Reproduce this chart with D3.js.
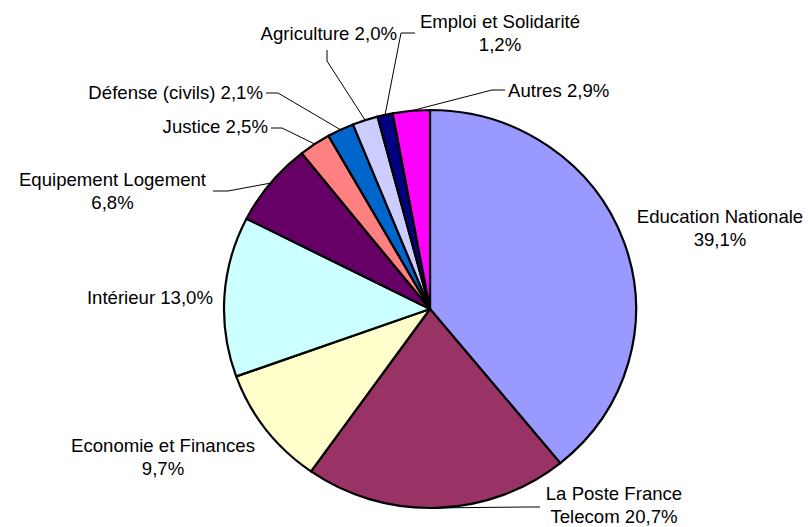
<!DOCTYPE html>
<html>
<head>
<meta charset="utf-8">
<script src="https://cdn.jsdelivr.net/npm/d3@7"></script>
<style>
  html, body { margin: 0; padding: 0; background: #ffffff; }
  svg { display: block; }
  text { font-family: "Liberation Sans", Arial, sans-serif; font-size: 18.6px; fill: #000; }
</style>
</head>
<body>
<svg id="chart" width="808" height="527"></svg>
<script>
// ---- data ----
const categories = [
  "Education Nationale", "La Poste France Telecom", "Economie et Finances",
  "Intérieur", "Equipement Logement", "Justice", "Défense (civils)",
  "Agriculture", "Emploi et Solidarité", "Autres"
];
const values = [39.1, 20.7, 9.7, 13.0, 6.8, 2.5, 2.1, 2.0, 1.2, 2.9];
const valueLabels = ["39,1%", "20,7%", "9,7%", "13,0%", "6,8%", "2,5%", "2,1%", "2,0%", "1,2%", "2,9%"];
const colors = ["#9999FF", "#993366", "#FFFFCC", "#CCFFFF", "#660066",
                "#FF8080", "#0066CC", "#CCCCFF", "#000080", "#FF00FF"];

// ---- layout (label text lines, positions, leader lines) ----
const labelLines = [
  ["Education Nationale", "39,1%"],
  ["La Poste France", "Telecom 20,7%"],
  ["Economie et Finances", "9,7%"],
  ["Intérieur 13,0%"],
  ["Equipement Logement", "6,8%"],
  ["Justice 2,5%"],
  ["Défense (civils) 2,1%"],
  ["Agriculture 2,0%"],
  ["Emploi et Solidarité", "1,2%"],
  ["Autres 2,9%"]
];
// x, first baseline y, anchor, leader polyline start points (before pie point)
const labelLayout = [
  {x: 720, y: 223, anchor: "middle", leader: null},
  {x: 614, y: 500, anchor: "middle", leader: [[540, 507], [527, 507]]},
  {x: 163, y: 452, anchor: "middle", leader: null},
  {x: 213, y: 304, anchor: "end", leader: null},
  {x: 112.5, y: 186, anchor: "middle", leader: [[213, 191], [228, 191]]},
  {x: 268, y: 133, anchor: "end", leader: [[271, 128], [282, 128]]},
  {x: 263, y: 99, anchor: "end", leader: [[266, 93], [278, 93]]},
  {x: 397, y: 40, anchor: "end", leader: [[327, 50], [327, 61]]},
  {x: 500, y: 28, anchor: "middle", leader: [[415, 33], [401, 33]]},
  {x: 508, y: 97, anchor: "start", leader: [[505, 90], [492, 90]]}
];
const lineHeight = 23;

const cx = 430, cy = 309, rx = 206, ry = 199;

const svg = d3.select("#chart");

const pie = d3.pie().value(d => d).sort(null);
const arcs = pie(values);

const arc = d3.arc().innerRadius(0).outerRadius(rx);

const g = svg.append("g")
  .attr("transform", `translate(${cx},${cy}) scale(1,${ry / rx})`);

g.selectAll("path")
  .data(arcs)
  .join("path")
  .attr("d", arc)
  .attr("fill", (d, i) => colors[i])
  .attr("stroke", "#000")
  .attr("stroke-width", 2.2)
  .attr("stroke-linejoin", "round")
  .attr("vector-effect", "non-scaling-stroke");

// leader lines
function edgePoint(d) {
  const a = (d.startAngle + d.endAngle) / 2;
  return [cx + rx * Math.sin(a), cy - ry * Math.cos(a)];
}
const lineGen = d3.line();
arcs.forEach((d, i) => {
  const L = labelLayout[i];
  if (!L.leader) return;
  const pts = L.leader.concat([edgePoint(d)]);
  svg.append("path")
    .attr("d", lineGen(pts))
    .attr("fill", "none")
    .attr("stroke", "#000")
    .attr("stroke-width", 1);
});

// labels
labelLines.forEach((lines, i) => {
  const L = labelLayout[i];
  const t = svg.append("text")
    .attr("x", L.x)
    .attr("y", L.y)
    .attr("text-anchor", L.anchor);
  lines.forEach((s, j) => {
    t.append("tspan").attr("x", L.x).attr("y", L.y + j * lineHeight).text(s);
  });
});
</script>
</body>
</html>
